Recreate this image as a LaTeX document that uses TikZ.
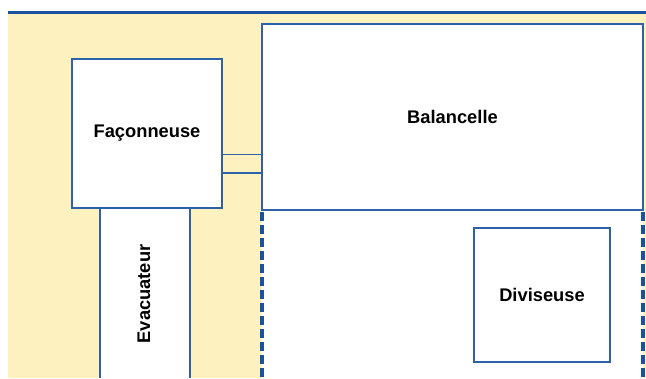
\documentclass[tikz,border=0pt]{standalone}
\usepackage{fontspec}
\setmainfont{Liberation Sans}
\definecolor{bgy}{HTML}{FDF1C0}
\definecolor{lnb}{HTML}{2E62A8}
\definecolor{topb}{HTML}{1A52A0}
\begin{document}
\begin{tikzpicture}[x=1pt,y=-1pt,
  box/.style={draw=lnb, line width=1.2pt, fill=white, inner sep=0pt, font=\bfseries\fontsize{18.3}{20}\selectfont},
  conn/.style={draw=lnb, line width=1.2pt},
  dashline/.style={draw=topb, line width=3.2pt, dash pattern=on 8.5pt off 4.5pt}]
\useasboundingbox (0,0) rectangle (646,378);
\fill[bgy] (8,13) rectangle (646,378);
\fill[white] (262,210) rectangle (643,378);
\fill[white] (100,208) rectangle (190,378);
\coordinate (tl) at (8,12.5);
\coordinate (tr) at (646,12.5);
\draw[topb, line width=2.2pt] (tl) -- (tr);
\node[box, minimum width=150pt, minimum height=149pt] (fac) at (147,133.5) {Façonneuse};
\node[box, minimum width=381pt, minimum height=186pt] (bal) at (452.5,117) {Balancelle};
\node[box, minimum width=136pt, minimum height=134pt] (div) at (542,295) {Diviseuse};
\node[font=\bfseries\fontsize{18.3}{20}\selectfont, rotate=90, inner sep=0pt] (eva) at (144,294) {Evacuateur};
\coordinate (c1) at (0,154.5);
\coordinate (c2) at (0,173);
\draw[conn] (fac.east |- c1) -- (bal.west |- c1);
\draw[conn] (fac.east |- c2) -- (bal.west |- c2);
\coordinate (e1) at (100,378);
\coordinate (e2) at (190,378);
\draw[conn] (fac.south -| e1) -- (e1);
\draw[conn] (fac.south -| e2) -- (e2);
\coordinate (d1) at (262,378);
\coordinate (d2) at (643,378);
\coordinate (s1) at (262,212);
\coordinate (s2) at (643,212);
\draw[dashline] (s1) -- (d1);
\draw[dashline] (s2) -- (d2);
\end{tikzpicture}
\end{document}
